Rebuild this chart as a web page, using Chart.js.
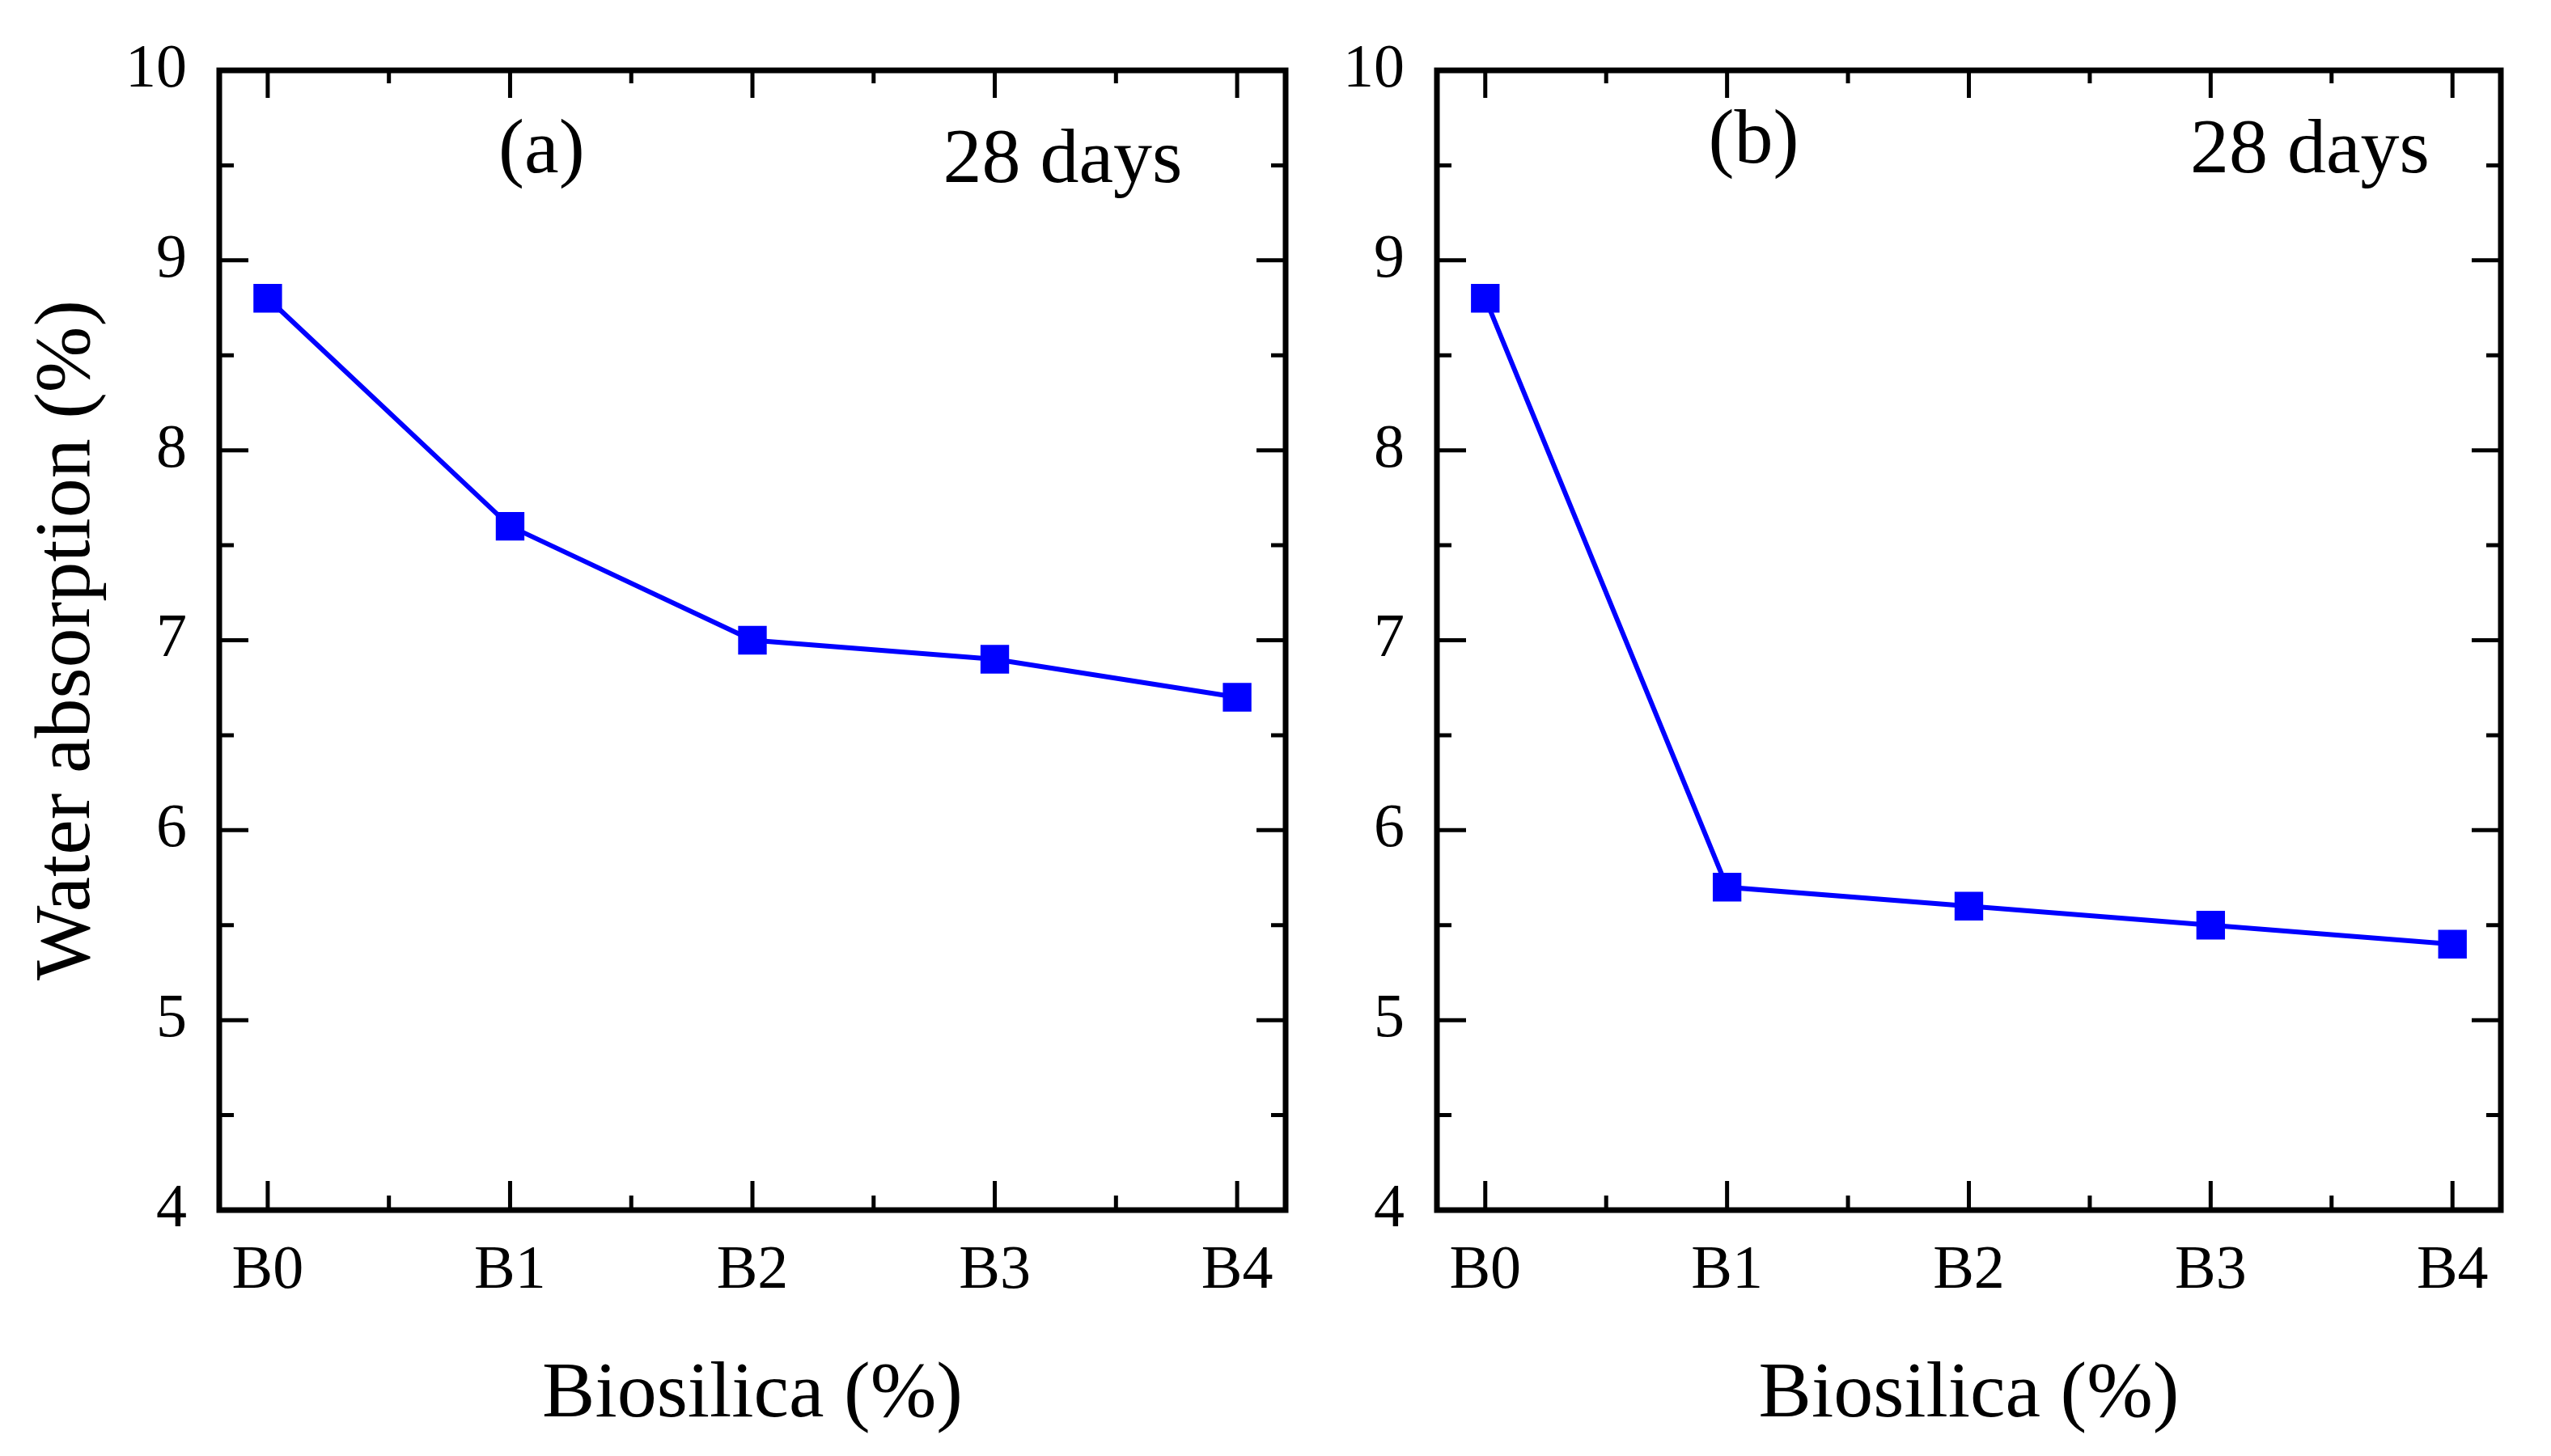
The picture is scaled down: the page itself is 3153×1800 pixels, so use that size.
<!DOCTYPE html>
<html>
<head>
<meta charset="utf-8">
<script src="https://cdn.jsdelivr.net/npm/chart.js@4.4.0/dist/chart.umd.min.js"></script>
<style>
  body { margin: 0; background: #fff; }
  #wrapA { position: absolute; left: 0; top: 0; width: 1680px; height: 1800px; }
  #wrapB { position: absolute; left: 1600px; top: 0; width: 1553px; height: 1800px; }
</style>
</head>
<body>
<div id="wrapA"><canvas id="chartA"></canvas></div>
<div id="wrapB"><canvas id="chartB"></canvas></div>
<script>
// data
const categories = ["B0", "B1", "B2", "B3", "B4"];
const absorptionA = [8.8, 7.6, 7.0, 6.9, 6.7];
const absorptionB = [8.8, 5.7, 5.6, 5.5, 5.4];
const yTicks = [4, 5, 6, 7, 8, 9, 10];
const panelLabels = ["(a)", "(b)"];
const ageLabel = "28 days";

const FONT = "'Liberation Serif', 'Times New Roman', serif";
const BLUE = "#0000ff";

// frame, inward ticks, titles and panel labels
const framePlugin = {
  id: "frame",
  afterDraw(chart, args, opts) {
    const ctx = chart.ctx;
    const a = chart.chartArea;
    const xs = chart.scales.x, ys = chart.scales.y;
    ctx.save();
    ctx.strokeStyle = "#000";
    ctx.lineWidth = 7;
    ctx.lineCap = "butt";
    ctx.strokeRect(a.left, a.top, a.right - a.left, a.bottom - a.top);

    ctx.lineWidth = 5;
    ctx.beginPath();
    categories.forEach((c, i) => {
      const px = xs.getPixelForValue(i);
      ctx.moveTo(px, a.bottom); ctx.lineTo(px, a.bottom - 36);
      ctx.moveTo(px, a.top); ctx.lineTo(px, a.top + 34);
      if (i < categories.length - 1) {
        const mx = xs.getPixelForValue(i + 0.5);
        ctx.moveTo(mx, a.bottom); ctx.lineTo(mx, a.bottom - 18);
        ctx.moveTo(mx, a.top); ctx.lineTo(mx, a.top + 16);
      }
    });
    yTicks.forEach((v, i) => {
      const py = ys.getPixelForValue(v);
      ctx.moveTo(a.left, py); ctx.lineTo(a.left + 36, py);
      ctx.moveTo(a.right, py); ctx.lineTo(a.right - 36, py);
      if (i < yTicks.length - 1) {
        const my = ys.getPixelForValue(v + 0.5);
        ctx.moveTo(a.left, my); ctx.lineTo(a.left + 18, my);
        ctx.moveTo(a.right, my); ctx.lineTo(a.right - 18, my);
      }
    });
    ctx.stroke();

    ctx.fillStyle = "#000";
    ctx.font = "98px " + FONT;
    ctx.textAlign = "center";
    ctx.textBaseline = "middle";
    ctx.fillText("Biosilica (%)", (a.left + a.right) / 2, a.bottom + 229);

    if (opts.yTitle) {
      ctx.save();
      ctx.translate(84, (a.top + a.bottom) / 2);
      ctx.rotate(-Math.PI / 2);
      ctx.fillText(opts.yTitle, 0, 0);
      ctx.restore();
    }

    ctx.font = "96px " + FONT;
    opts.notes.forEach(n => {
      ctx.fillText(n.text, xs.getPixelForValue(n.x), ys.getPixelForValue(n.y));
    });
    ctx.restore();
  }
};

function makeChart(id, values, yWidth, rightPad, notes, yTitle) {
  return new Chart(document.getElementById(id), {
    type: "line",
    data: {
      datasets: [{
        data: values.map((v, i) => ({ x: i, y: v })),
        borderColor: BLUE,
        backgroundColor: BLUE,
        borderWidth: 6,
        pointStyle: "rect",
        pointRadius: 25,
        pointBorderWidth: 0,
        pointBackgroundColor: BLUE,
        tension: 0,
        clip: false
      }]
    },
    options: {
      responsive: true,
      maintainAspectRatio: false,
      animation: false,
      devicePixelRatio: 1,
      layout: { padding: { top: 87, right: rightPad, left: 0, bottom: 0 } },
      plugins: {
        legend: { display: false },
        tooltip: { enabled: false },
        frame: { notes: notes, yTitle: yTitle }
      },
      scales: {
        x: {
          type: "linear",
          min: -0.2,
          max: 4.2,
          grid: { display: false, drawTicks: false },
          border: { display: false },
          afterBuildTicks: s => { s.ticks = categories.map((c, i) => ({ value: i })); },
          afterFit: s => { s.height = 304; },
          ticks: {
            padding: 30,
            color: "#000",
            font: { family: FONT, size: 76 },
            callback: v => categories[v]
          }
        },
        y: {
          min: 4,
          max: 10,
          grid: { display: false, drawTicks: false },
          border: { display: false },
          afterBuildTicks: s => { s.ticks = yTicks.map(v => ({ value: v })); },
          afterFit: s => { s.width = yWidth; },
          ticks: {
            padding: 40,
            color: "#000",
            font: { family: FONT, size: 76 },
            callback: v => String(v)
          }
        }
      }
    },
    plugins: [framePlugin]
  });
}

makeChart("chartA", absorptionA, 271, 91,
  [{ text: panelLabels[0], x: 1.13, y: 9.57 }, { text: ageLabel, x: 3.28, y: 9.52 }],
  "Water absorption (%)");
makeChart("chartB", absorptionB, 176, 62,
  [{ text: panelLabels[1], x: 1.11, y: 9.62 }, { text: ageLabel, x: 3.41, y: 9.57 }],
  null);
</script>
</body>
</html>
